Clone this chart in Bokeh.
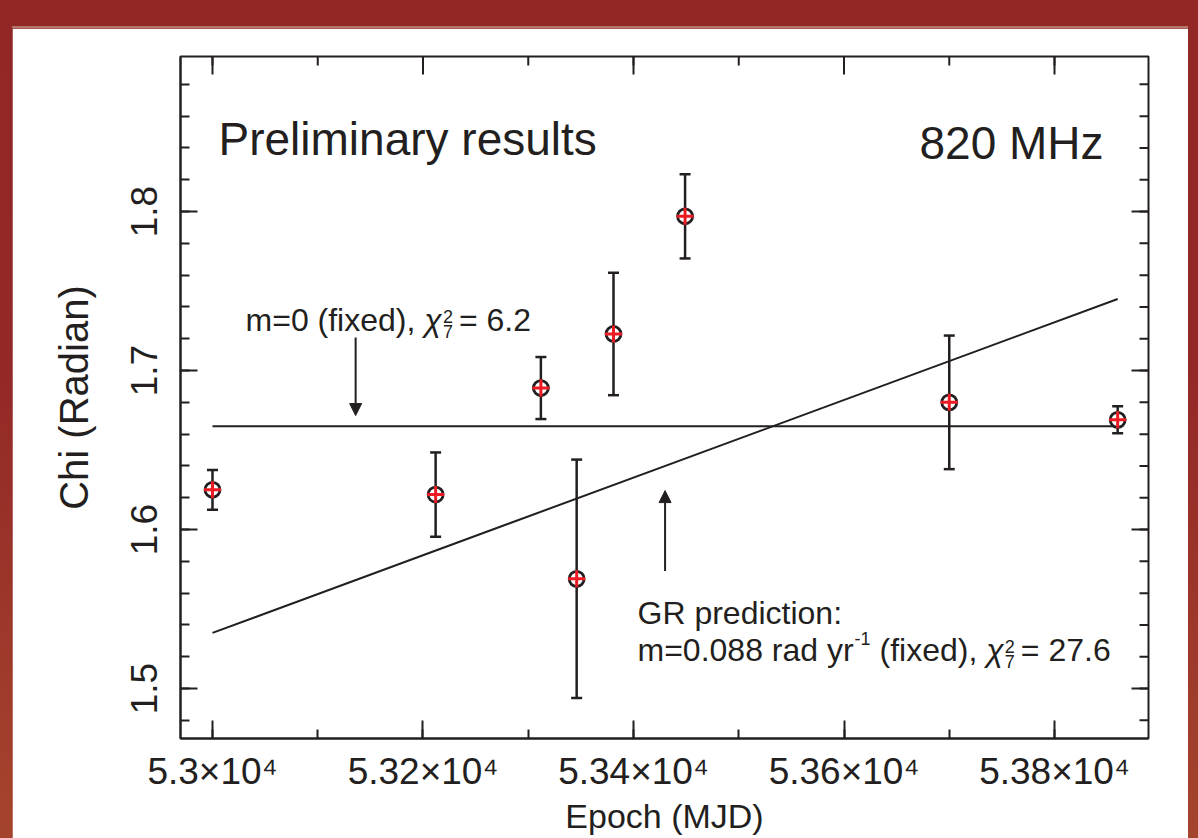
import math
from bokeh.plotting import figure
from bokeh.models import Range1d, FixedTicker, Label, Arrow, NormalHead
from bokeh.layouts import column
from bokeh.embed import file_html
from bokeh.resources import INLINE

# ---------------- data ----------------
epoch_mjd = [53000, 53212, 53312, 53346, 53381, 53449, 53700, 53860]
chi_rad = [1.625, 1.622, 1.689, 1.569, 1.723, 1.797, 1.680, 1.669]
chi_err = [0.0125, 0.0265, 0.0195, 0.075, 0.0385, 0.0265, 0.042, 0.0085]

fit_mjd = [53000, 53860]
flat_fit = [1.665, 1.665]        # m = 0 (fixed)
gr_fit = [1.535, 1.745]          # GR prediction, m = 0.088 rad/yr

x_ticks = [53000, 53200, 53400, 53600, 53800]
x_tick_labels = ["5.3×10⁴", "5.32×10⁴", "5.34×10⁴", "5.36×10⁴", "5.38×10⁴"]
x_minor_ticks = [53000, 53100, 53200, 53300, 53400, 53500, 53600, 53700, 53800]
y_ticks = [1.5, 1.6, 1.7, 1.8]
y_tick_labels = ["1.5", "1.6", "1.7", "1.8"]
y_minor_ticks = [1.48, 1.50, 1.52, 1.54, 1.56, 1.58, 1.60, 1.62, 1.64, 1.66, 1.68,
                 1.70, 1.72, 1.74, 1.76, 1.78, 1.80, 1.82, 1.84, 1.86, 1.88]

X_MIN, X_MAX = 52969.6, 53889.3
Y_MIN, Y_MAX = 1.4686, 1.8975

INK = "#231f20"
RED = "#ed1c24"
FONT = "Liberation Sans"

# approximate Arial / Liberation Sans advance widths (per 1000 em)
W = {" ": 278, "(": 333, ")": 333, ",": 278, ".": 278, ":": 278, "=": 584, "-": 333,
     "G": 778, "R": 722, "a": 556, "c": 500, "d": 556, "e": 556, "f": 278, "i": 222,
     "m": 833, "n": 556, "o": 556, "p": 556, "r": 333, "t": 278, "x": 500, "y": 500,
     "χ": 520}
for _d in "0123456789":
    W[_d] = 556


def tw(s, size):
    return sum(W.get(c, 556) for c in s) * size / 1000.0


# ---------------- figure ----------------
fig = figure(width=1176, height=810,
             x_range=Range1d(X_MIN, X_MAX), y_range=Range1d(Y_MIN, Y_MAX),
             output_backend="svg", toolbar_location=None,
             min_border_left=168, min_border_right=40, min_border_top=28, min_border_bottom=100,
             background_fill_color="white", border_fill_color="white",
             outline_line_color=INK, outline_line_width=2,
             margin=(28, 10, 0, 12))
fig.grid.visible = False

xt = FixedTicker(ticks=x_ticks, minor_ticks=x_minor_ticks)
yt = FixedTicker(ticks=y_ticks, minor_ticks=y_minor_ticks)


def style_axis(ax, major_len, minor_len):
    ax.axis_line_color = INK
    ax.axis_line_width = 2
    ax.major_tick_in = major_len
    ax.major_tick_out = 0
    ax.minor_tick_in = minor_len
    ax.minor_tick_out = 0
    ax.major_tick_line_color = INK
    ax.minor_tick_line_color = INK
    ax.major_tick_line_width = 2
    ax.minor_tick_line_width = 2
    ax.major_label_text_font = FONT
    ax.major_label_text_color = INK
    ax.major_label_text_font_size = "37px"


xa = fig.xaxis[0]
xa.ticker = xt
style_axis(xa, 18, 9)
xa.major_label_overrides = {float(v): s for v, s in zip(x_ticks, x_tick_labels)}
xa.major_label_standoff = 12
xa.axis_label = "Epoch (MJD)"
xa.axis_label_text_font = FONT
xa.axis_label_text_font_size = "34px"
xa.axis_label_text_font_style = "normal"
xa.axis_label_text_color = INK
xa.axis_label_standoff = 2

ya = fig.yaxis[0]
ya.ticker = yt
style_axis(ya, 17, 9)
ya.major_label_overrides = {float(v): s for v, s in zip(y_ticks, y_tick_labels)}
ya.major_label_orientation = "vertical"
ya.major_label_standoff = 23
ya.axis_label = "Chi (Radian)"
ya.axis_label_text_font = FONT
ya.axis_label_text_font_size = "40px"
ya.axis_label_text_font_style = "normal"
ya.axis_label_text_color = INK
ya.axis_label_standoff = 33

# inward ticks on the top and right edges of the frame (no labels there)
fig.scatter(x_minor_ticks, [Y_MAX] * len(x_minor_ticks), marker="dash", angle=math.pi / 2,
            size=18, line_color=INK, line_width=2)
fig.scatter(x_ticks, [Y_MAX] * len(x_ticks), marker="dash", angle=math.pi / 2,
            size=36, line_color=INK, line_width=2)
fig.scatter([X_MAX] * len(y_minor_ticks), y_minor_ticks, marker="dash",
            size=18, line_color=INK, line_width=2)
fig.scatter([X_MAX] * len(y_ticks), y_ticks, marker="dash",
            size=34, line_color=INK, line_width=2)

# ---------------- fit lines ----------------
fig.line(fit_mjd, flat_fit, line_color=INK, line_width=2)
fig.line(fit_mjd, gr_fit, line_color=INK, line_width=2)

# ---------------- data with error bars ----------------
lo = [c - e for c, e in zip(chi_rad, chi_err)]
hi = [c + e for c, e in zip(chi_rad, chi_err)]
fig.segment(x0=epoch_mjd, y0=lo, x1=epoch_mjd, y1=hi, line_color=INK, line_width=2.5)
fig.scatter(epoch_mjd, lo, marker="dash", size=11, line_color=INK, line_width=2.5)
fig.scatter(epoch_mjd, hi, marker="dash", size=11, line_color=INK, line_width=2.5)
fig.scatter(epoch_mjd, chi_rad, marker="circle", size=15, fill_color="white",
            line_color=INK, line_width=2.8)
fig.scatter(epoch_mjd, chi_rad, marker="cross", size=17, line_color=RED, line_width=3)


# ---------------- texts ----------------
def add_label(x, y, text, size, dx=0, dy=0, align="left", baseline="alphabetic", style="normal"):
    fig.add_layout(Label(x=x, y=y, text=text, x_offset=dx, y_offset=dy,
                         text_font=FONT, text_font_size=f"{size}px", text_color=INK,
                         text_font_style=style,
                         text_align=align, text_baseline=baseline))


add_label(53005.7, 1.8459, "Preliminary results", 46)
add_label(53846.6, 1.8434, "820 MHz", 46, align="right")

AF = 32      # annotation font size
SF = 18      # sub/superscript size
SP = tw(" ", AF)


def chi_sq(x, y, prefix_end, value):
    """italic chi with stacked 2 / 7, then '= value'"""
    add_label(x, y, "χ", AF, dx=prefix_end, style="italic")
    o = prefix_end + tw("χ", AF) + 2
    add_label(x, y, "2", SF, dx=o, dy=3)
    add_label(x, y, "7", SF, dx=o, dy=-12)
    add_label(x, y, "= " + value, AF, dx=o + 16)


# "m=0 (fixed), chi^2_7 = 6.2"
s1 = "m=0 (fixed),"
add_label(53031.4, 1.732, s1, AF)
chi_sq(53031.4, 1.732, tw(s1, AF) + SP, "6.2")

# GR prediction
add_label(53403.8, 1.5478, "GR prediction:", AF)
s2a = "m=0.088 rad yr"
add_label(53403.8, 1.5245, s2a, AF)
o = tw(s2a, AF) + 1
add_label(53403.8, 1.5245, "-1", SF, dx=o, dy=11)
o += tw("-1", SF) + SP
s2b = "(fixed),"
add_label(53403.8, 1.5245, s2b, AF, dx=o)
chi_sq(53403.8, 1.5245, o + tw(s2b, AF) + SP, "27.6")

# arrows
fig.add_layout(Arrow(end=NormalHead(size=12, fill_color=INK, line_color=INK, line_width=1),
                     x_start=53136, y_start=1.7208, x_end=53136, y_end=1.6717,
                     line_color=INK, line_width=2))
fig.add_layout(Arrow(end=NormalHead(size=12, fill_color=INK, line_color=INK, line_width=1),
                     x_start=53430, y_start=1.5740, x_end=53430, y_end=1.6245,
                     line_color=INK, line_width=2))

page = column(fig, width=1198, height=838, sizing_mode="fixed",
              styles={"background": "linear-gradient(#b4786a, #b4786a) 12px 26px / 1176px 2px no-repeat, "
                                    "linear-gradient(180deg, #922826 0%, #932927 45%, #a5442d 100%)"})

open("out.html", "w").write(file_html(page, INLINE))
